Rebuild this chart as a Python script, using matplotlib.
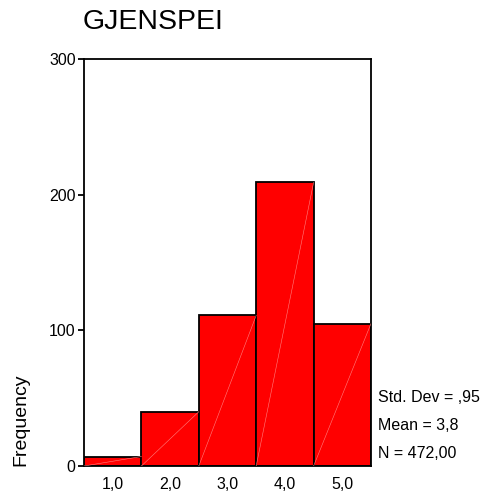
import matplotlib.pyplot as plt
import numpy as np

plt.rcParams['font.family'] = ['Liberation Sans', 'DejaVu Sans']

# histogram of GJENSPEI (values 1..5)
values = [1, 2, 3, 4, 5]
counts = [7, 40, 111, 209, 105]
tick_labels = ['1,0', '2,0', '3,0', '4,0', '5,0']
stats_lines = ['Std. Dev = ,95', 'Mean = 3,8', 'N = 472,00']

fig = plt.figure(figsize=(4.86, 5.0), dpi=100)
ax = fig.add_axes([84 / 486, 1 - 466 / 500, 287 / 486, 407 / 500])

bars = ax.bar(values, counts, width=1.0, color='#ff0000', edgecolor='black', linewidth=1.3, zorder=2)

# the thin light diagonal that SPSS leaves inside each bar
for b in bars:
    x0 = b.get_x()
    ax.plot([x0, x0 + b.get_width()], [0, b.get_height()], color='#ff8080', lw=0.4, zorder=3)

ax.set_xlim(0.5, 5.5)
ax.set_ylim(0, 300)
ax.set_yticks([0, 100, 200, 300])
ax.set_xticks(values)
ax.set_xticklabels(tick_labels)
ax.tick_params(axis='y', length=4, width=1.3, labelsize=11.5, pad=2)
ax.tick_params(axis='x', length=0, labelsize=11.5, pad=8)
for s in ax.spines.values():
    s.set_linewidth(1.3)

fig.text(83 / 486, 1 - 22 / 500, 'GJENSPEI', fontsize=20.5, ha='left', va='center')
fig.text(21 / 486, 1 - 466 / 500, 'Frequency', fontsize=14, rotation=90, ha='center', va='bottom')

for i, line in enumerate(stats_lines):
    fig.text(378 / 486, 1 - (398 + i * 27.5) / 500, line, fontsize=11.5, ha='left', va='center')

fig.savefig('out.png', dpi=100)
